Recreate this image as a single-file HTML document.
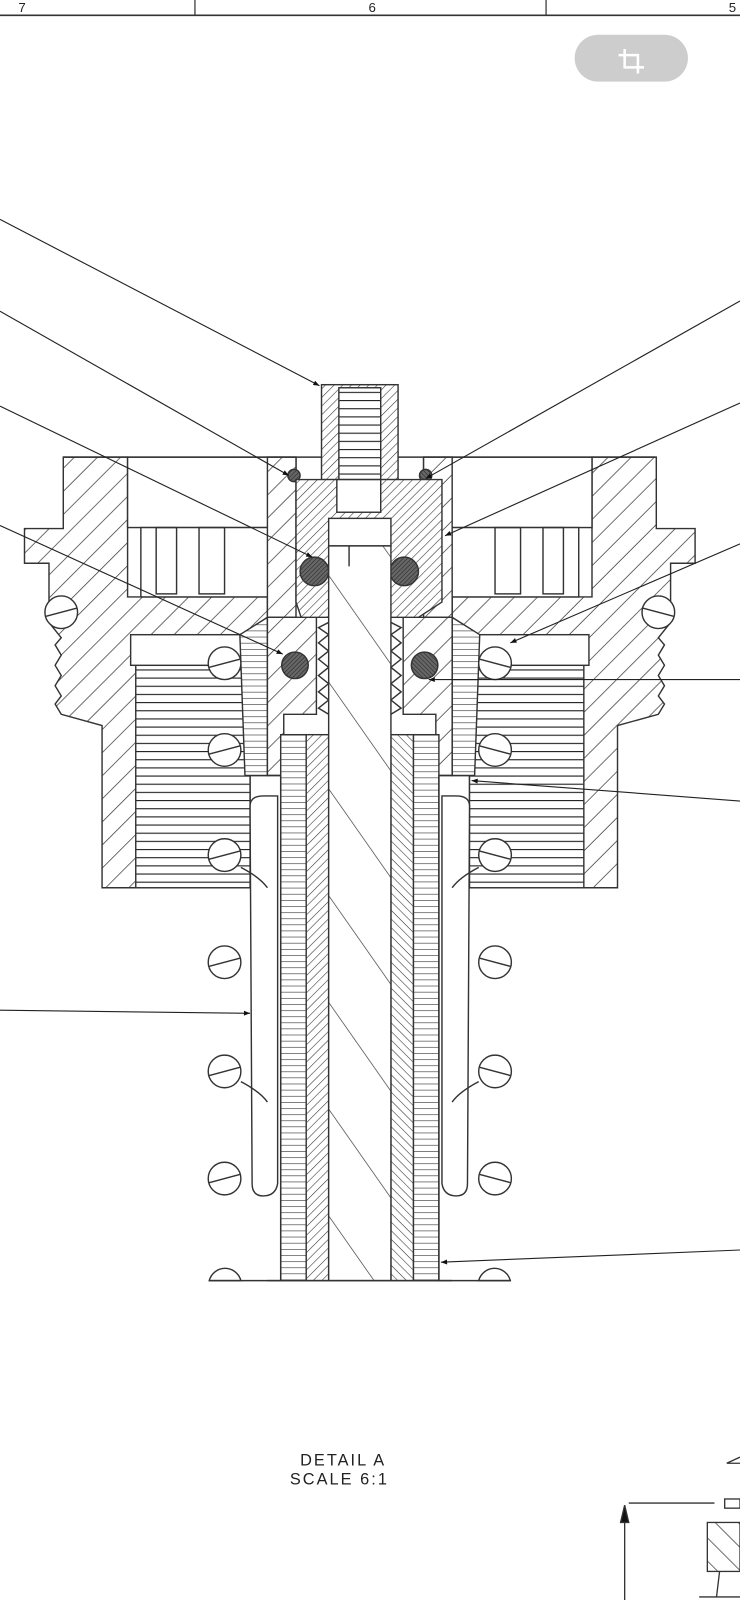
<!DOCTYPE html>
<html><head><meta charset="utf-8"><style>
html,body{margin:0;padding:0;background:#fff;width:740px;height:1600px;overflow:hidden}
svg{display:block}
text{font-family:"Liberation Sans Narrow","Liberation Sans",sans-serif;fill:#222}
</style></head><body>
<svg width="740" height="1600" viewBox="0 0 725 1568" preserveAspectRatio="none" xmlns="http://www.w3.org/2000/svg">
<defs>
<pattern id="hwA" width="16" height="16" patternUnits="userSpaceOnUse" patternTransform="rotate(45)"><rect width="16" height="16" fill="#fff"/><line x1="0" y1="0" x2="0" y2="16" stroke="#333" stroke-width="1.4"/></pattern>
<pattern id="hwB" width="16" height="16" patternUnits="userSpaceOnUse" patternTransform="rotate(-45)"><rect width="16" height="16" fill="#fff"/><line x1="0" y1="0" x2="0" y2="16" stroke="#333" stroke-width="1.4"/></pattern>
<pattern id="hf" width="6" height="6" patternUnits="userSpaceOnUse" patternTransform="rotate(45)"><rect width="6" height="6" fill="#fff"/><line x1="0" y1="0" x2="0" y2="6" stroke="#333" stroke-width="1.1"/></pattern>
<pattern id="hh" width="10" height="6" patternUnits="userSpaceOnUse"><rect width="10" height="6" fill="#fff"/><line x1="0" y1="0" x2="10" y2="0" stroke="#333" stroke-width="1.2"/></pattern>
<pattern id="ht" width="10" height="8" patternUnits="userSpaceOnUse"><rect width="10" height="8" fill="#fff"/><line x1="0" y1="0" x2="10" y2="0" stroke="#222" stroke-width="2.2"/></pattern>
<pattern id="hs" width="60" height="60" patternUnits="userSpaceOnUse" patternTransform="rotate(-35)"><rect width="60" height="60" fill="#fff"/><line x1="0" y1="0" x2="0" y2="60" stroke="#333" stroke-width="1.3"/></pattern>
<pattern id="hd" width="3" height="3" patternUnits="userSpaceOnUse" patternTransform="rotate(45)"><rect width="3" height="3" fill="#666"/><line x1="0" y1="0" x2="0" y2="3" stroke="#222" stroke-width="1"/></pattern>
<marker id="ar" viewBox="0 0 10 10" refX="10" refY="5" markerWidth="12" markerHeight="6" orient="auto" markerUnits="userSpaceOnUse"><path d="M0,1 L10,5 L0,9 z" fill="#111"/></marker>
<g id="rest" stroke="#333" stroke-width="1.4">
  <rect x="125" y="448" width="145" height="69" fill="#fff"/>
  <rect x="138" y="517" width="125" height="68" fill="#fff"/>
  <rect x="153" y="517" width="20" height="65" fill="none"/>
  <rect x="195" y="517" width="25" height="65" fill="none"/>
  <rect x="133" y="652" width="112" height="218" fill="url(#ht)"/>
  <rect x="128" y="622" width="112" height="30" fill="#fff"/>
  <circle cx="60" cy="600" r="16" fill="#fff"/><line x1="45" y1="604" x2="75" y2="596"/>
  <rect x="270" y="448" width="20" height="25" fill="#fff"/>
  <path d="M235,622 L262,605 L262,760 L240,760 Z" fill="url(#hh)"/>
</g>
<g id="rest2" stroke="#333" stroke-width="1.4">
  <rect x="275" y="720" width="25" height="535" fill="url(#hh)"/>
  <rect x="300" y="720" width="22" height="535" fill="url(#hf)"/>
  <path d="M245,790 Q245,780 258,780 L272,780 L272,1160 Q270,1172 258,1172 Q247,1172 247,1160 Z" fill="#fff"/>
  <path d="M262,760 L275,760 L275,1255 L262,1255" fill="none"/>
  <circle cx="220" cy="650" r="16" fill="#fff"/><line x1="205" y1="654" x2="235" y2="646"/>
  <circle cx="220" cy="735" r="16" fill="#fff"/><line x1="205" y1="739" x2="235" y2="731"/>
  <circle cx="220" cy="838" r="16" fill="#fff"/><line x1="205" y1="842" x2="235" y2="834"/>
  <circle cx="220" cy="943" r="16" fill="#fff"/><line x1="205" y1="947" x2="235" y2="939"/>
  <circle cx="220" cy="1050" r="16" fill="#fff"/><line x1="205" y1="1054" x2="235" y2="1046"/>
  <circle cx="220" cy="1155" r="16" fill="#fff"/><line x1="205" y1="1159" x2="235" y2="1151"/>
  <path d="M205,1255 A16,16 0 0 1 236,1255 Z" fill="#fff"/>
  <path d="M236,850 Q255,860 262,870 M236,1060 Q255,1070 262,1080" fill="none"/>
  <circle cx="288" cy="466" r="6" fill="url(#hd)"/>
  <circle cx="308" cy="560" r="14" fill="url(#hd)"/>
  <circle cx="289" cy="652" r="13" fill="url(#hd)"/>
  <path d="M322,610 L312,615 L322,622 L312,630 L322,638 L312,646 L322,654 L312,662 L322,670 L312,678 L322,686 L312,694 L322,700" fill="none"/>
</g>
<path id="body" d="M62,448 L125,448 L125,585 L262,585 L262,760 L245,760 L245,870 L100,870 L100,711 L60,700 L54,690 L60,682 L54,672 L60,662 L54,652 L60,642 L54,632 L60,625 L48,610 L48,552 L24,552 L24,518 L62,518 Z"/>
<path id="p2" d="M262,448 L290,448 L290,605 L262,605 Z"/>
<path id="p3" d="M262,605 L310,605 L310,700 L278,700 L278,720 L300,720 L300,760 L262,760 Z"/>
</defs>
<rect width="725" height="1568" fill="#fff"/>
<line x1="0" y1="15" x2="725" y2="15" stroke="#333" stroke-width="1.5"/>
<line x1="191" y1="0" x2="191" y2="15" stroke="#333" stroke-width="1.2"/>
<line x1="535" y1="0" x2="535" y2="15" stroke="#333" stroke-width="1.2"/>
<text x="18" y="12" font-size="13">7</text>
<text x="361" y="12" font-size="13">6</text>
<text x="714" y="12" font-size="13">5</text>
<rect x="563" y="34" width="111" height="46" rx="23" fill="#cdcdcd"/>
<path d="M612,48 L612,66 L631,66 M606,54 L625,54 L625,72" stroke="#fff" stroke-width="2.5" fill="none"/>
<g stroke="#333" stroke-width="1.4">
  <g>
    <use href="#body" fill="url(#hwA)"/>
    <use href="#rest"/>
    <use href="#p2" fill="url(#hwA)"/>
    <use href="#p3" fill="url(#hwA)"/>
    <use href="#rest2"/>
  </g>
  <g transform="translate(705,0) scale(-1,1)">
    <use href="#body" fill="url(#hwB)"/>
    <use href="#rest"/>
    <use href="#p2" fill="url(#hwB)"/>
    <use href="#p3" fill="url(#hwB)"/>
    <use href="#rest2"/>
  </g>
</g>
<g stroke="#333" stroke-width="1.4">
  <line x1="62" y1="448" x2="642" y2="448"/>
  <rect x="315" y="377" width="75" height="93" fill="url(#hf)"/>
  <rect x="332" y="380" width="41" height="90" fill="url(#ht)"/>
  <path d="M290,470 L433,470 L433,590 L410,605 L295,605 L290,590 Z" fill="url(#hf)"/>
  <rect x="330" y="470" width="43" height="32" fill="#fff"/>
  <rect x="322" y="508" width="61" height="27" fill="#fff"/>
  <circle cx="308" cy="560" r="14" fill="url(#hd)"/>
  <circle cx="396" cy="560" r="14" fill="url(#hd)"/>
  <rect x="322" y="535" width="61" height="720" fill="url(#hs)"/>
  <line x1="342" y1="535" x2="342" y2="555"/>
  <line x1="205" y1="1255" x2="500" y2="1255"/>
</g>
<g stroke="#222" stroke-width="1.1" marker-end="url(#ar)" fill="none">
  <line x1="0" y1="215" x2="313" y2="378"/>
  <line x1="0" y1="305" x2="283" y2="466"/>
  <line x1="0" y1="398" x2="306" y2="546"/>
  <line x1="0" y1="515" x2="277" y2="641"/>
  <line x1="0" y1="990" x2="245" y2="993"/>
  <line x1="725" y1="295" x2="417" y2="469"/>
  <line x1="725" y1="395" x2="436" y2="525"/>
  <line x1="725" y1="533" x2="500" y2="630"/>
  <line x1="725" y1="666" x2="420" y2="666"/>
  <line x1="725" y1="785" x2="462" y2="765"/>
  <line x1="725" y1="1225" x2="432" y2="1237"/>
</g>
<text x="294" y="1436" font-size="16" letter-spacing="2">DETAIL  A</text>
<text x="284" y="1455" font-size="16" letter-spacing="2">SCALE  6:1</text>
<g stroke="#333" stroke-width="1.3" fill="none">
  <path d="M712,1434 L725,1428 M712,1434 L725,1434"/>
  <line x1="616" y1="1473" x2="700" y2="1473"/>
  <line x1="612" y1="1478" x2="612" y2="1568"/>
  <path d="M608,1492 L612,1475 L616,1492 Z" fill="#111"/>
  <rect x="710" y="1469" width="15" height="9"/>
  <rect x="693" y="1492" width="32" height="48" fill="url(#hwB)"/>
  <line x1="705" y1="1540" x2="702" y2="1565"/>
  <line x1="685" y1="1565" x2="725" y2="1565"/>
</g>
</svg>
</body></html>
